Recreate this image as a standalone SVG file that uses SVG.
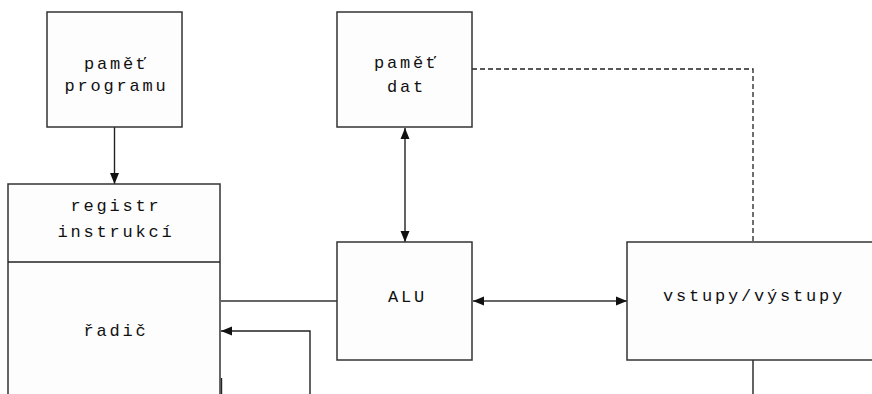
<svg xmlns="http://www.w3.org/2000/svg" width="872" height="394" viewBox="0 0 872 394">
  <defs>
    <marker id="arrow" viewBox="0 0 11 10" refX="11" refY="5" markerWidth="11" markerHeight="10" markerUnits="userSpaceOnUse" orient="auto-start-reverse">
      <path d="M0,0.5 L11,5 L0,9.5 Z" fill="#111"/>
    </marker>
  </defs>
  <style>
    .box { fill: #fdfdfd; stroke: #333; stroke-width: 1.5; }
    .line { fill: none; stroke: #222; stroke-width: 1.4; }
    .bus { fill: none; stroke: #666; stroke-width: 2; }
    .dash { fill: none; stroke: #222; stroke-width: 1.3; stroke-dasharray: 5 3; }
    text { font-family: "Liberation Mono", "DejaVu Sans Mono", monospace; font-size: 17px; letter-spacing: 2.8px; fill: #111; }
  </style>
  <rect width="872" height="394" fill="#ffffff"/>

  <!-- connectors -->
  <g id="connectors">
    <line class="line" x1="114.5" y1="127" x2="114.5" y2="184" marker-end="url(#arrow)"/>
    <line class="line" x1="405" y1="128" x2="405" y2="242" marker-start="url(#arrow)" marker-end="url(#arrow)"/>
    <line class="bus" x1="221" y1="301" x2="337" y2="301"/>
    <line class="bus" x1="473" y1="301" x2="627" y2="301" marker-start="url(#arrow)" marker-end="url(#arrow)"/>
    <polyline class="line" points="310,394 310,331 221,331" marker-end="url(#arrow)"/>
    <line class="line" x1="221.5" y1="378" x2="221.5" y2="394"/>
    <polyline class="dash" points="472,69 753,69 753,242"/>
    <line class="line" x1="753" y1="360" x2="753" y2="394"/>
  </g>

  <!-- program memory -->
  <g id="program-memory">
    <rect class="box" x="47" y="12" width="135" height="115"/>
    <text x="84" y="69">paměť</text>
    <text x="64.5" y="91">programu</text>
  </g>

  <!-- data memory -->
  <g id="data-memory">
    <rect class="box" x="337" y="12" width="135" height="115"/>
    <text x="374" y="68">paměť</text>
    <text x="387" y="92">dat</text>
  </g>

  <!-- instruction register and controller -->
  <g id="controller">
    <rect class="box" x="8" y="184" width="212" height="220"/>
    <line class="line" x1="8" y1="262" x2="220" y2="262"/>
    <text x="70.5" y="211">registr</text>
    <text x="57.5" y="237">instrukcí</text>
    <text x="83.5" y="336">řadič</text>
  </g>

  <!-- ALU -->
  <g id="alu">
    <rect class="box" x="337" y="242" width="135" height="118"/>
    <text x="388" y="302">ALU</text>
  </g>

  <!-- inputs / outputs -->
  <g id="io">
    <rect class="box" x="627" y="242" width="250" height="118"/>
    <text x="663" y="301">vstupy/výstupy</text>
  </g>
</svg>
